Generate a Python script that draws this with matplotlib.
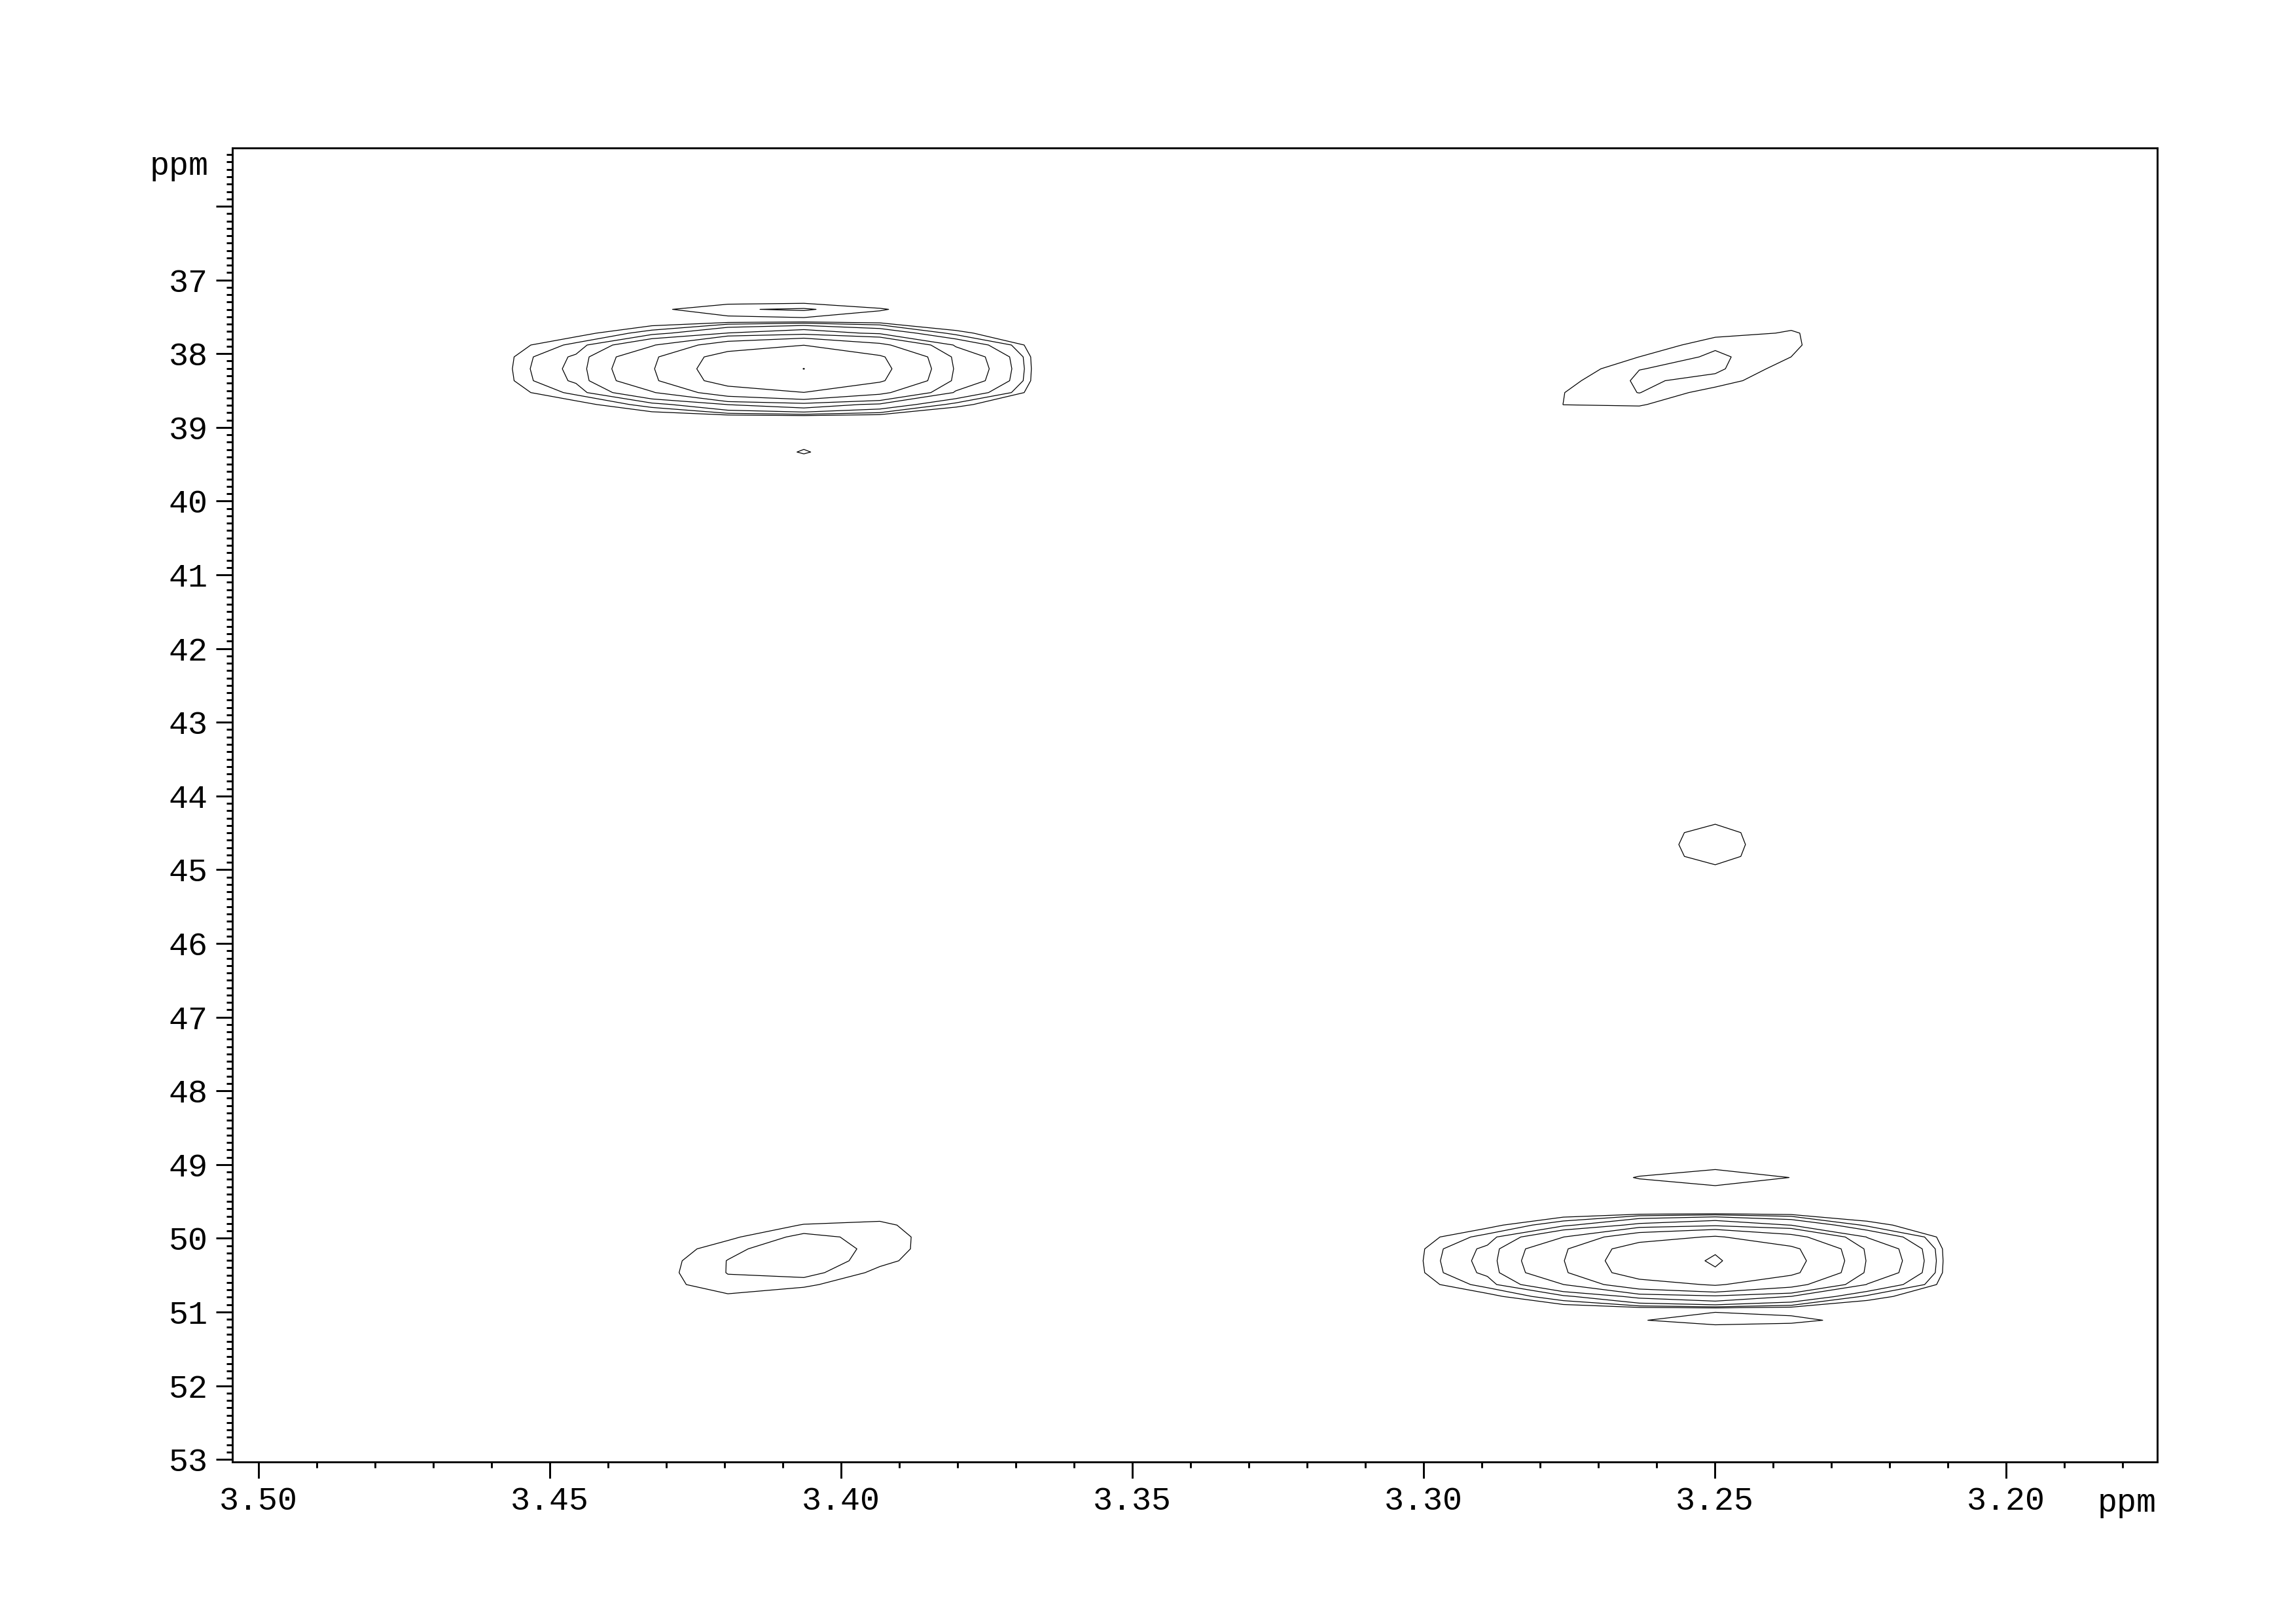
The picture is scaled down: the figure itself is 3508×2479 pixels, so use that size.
import numpy as np
import matplotlib.pyplot as plt
from matplotlib.ticker import MultipleLocator, FuncFormatter

plt.rcParams['font.family'] = ['Liberation Mono', 'DejaVu Sans Mono']

# processed data grid (ppm), taken from the contour vertices
grid_x0 = 3.2499
grid_dx = 0.01304
grid_y0 = 38.205
grid_dy = 0.16133

# cross peaks: F2 / F1 centre, height, F2 width (left / right side), F1 width, tilt dF1/dF2
peak_f2 = [3.4064, 3.4105, 3.4064, 3.2556, 3.2512, 3.4080, 3.2499, 3.2505, 3.2466]
peak_f1 = [38.205, 37.398, 39.320, 38.228, 44.658, 50.254, 50.305, 49.176, 51.112]
peak_height = [61.4, 2.0, 1.08, 2.15, 1.5, 2.6, 63.5, 1.45, 1.6]
peak_wl = [0.0235, 0.022, 0.010, 0.0234, 0.011, 0.0195, 0.0235, 0.022, 0.022]
peak_wr = [0.0192, 0.022, 0.010, 0.0234, 0.011, 0.0195, 0.0192, 0.022, 0.022]
peak_wy = [0.382, 0.111, 0.20, 0.38, 0.39, 0.43, 0.388, 0.19, 0.111]
peak_tilt = [0, 0, 0, 20, 0, 12, 0, 0, 0]

# contour levels (geometric)
level_base = 1.0
level_factor = 1.8
n_levels = 8

# build the 2D spectrum on the coarse grid
f2 = grid_x0 + grid_dx * np.arange(-7, 22)
f1 = grid_y0 + grid_dy * np.arange(-20, 94)
X, Y = np.meshgrid(f2, f1)
Z = np.zeros_like(X)
for x0, y0, h, wl, wr, wy, t in zip(peak_f2, peak_f1, peak_height, peak_wl,
                                     peak_wr, peak_wy, peak_tilt):
    dx = X - x0
    wx = np.where(dx > 0, wl, wr)
    dy = (Y - y0) - t * dx
    Z += h * np.exp(-(dx / wx) ** 2 - np.abs(dy / wy) ** 3)

levels = level_base * level_factor ** np.arange(n_levels)

fig = plt.figure(figsize=(3508 / 300, 2479 / 300), dpi=300)
ax = fig.add_axes([0.1012, 0.0994, 0.8384, 0.8094])
ax.contour(X, Y, Z, levels=levels, colors='black', linewidths=0.3)

ax.set_xlim(3.5045, 3.174)
ax.set_ylim(53.03, 35.21)

ax.xaxis.set_major_locator(MultipleLocator(0.05))
ax.xaxis.set_minor_locator(MultipleLocator(0.01))
ax.xaxis.set_major_formatter(FuncFormatter(lambda v, p: f'{v:.2f}'))
ax.yaxis.set_major_locator(MultipleLocator(1))
ax.yaxis.set_minor_locator(MultipleLocator(0.1))
ax.yaxis.set_major_formatter(FuncFormatter(lambda v, p: '' if round(v) == 36 else f'{v:.0f}'))

ax.tick_params(which='both', direction='out', width=0.7, labelsize=12,
               top=False, right=False)
ax.tick_params(which='major', length=6, pad=3)
ax.tick_params(which='minor', length=2.2)
for s in ax.spines.values():
    s.set_linewidth(0.7)

fig.text(319 / 3508, 1 - 267 / 2479, 'ppm', ha='right', va='baseline', fontsize=12)
fig.text(3295 / 3508, 1 - 2309 / 2479, 'ppm', ha='right', va='baseline', fontsize=12)

fig.savefig('out.png', dpi=300)
